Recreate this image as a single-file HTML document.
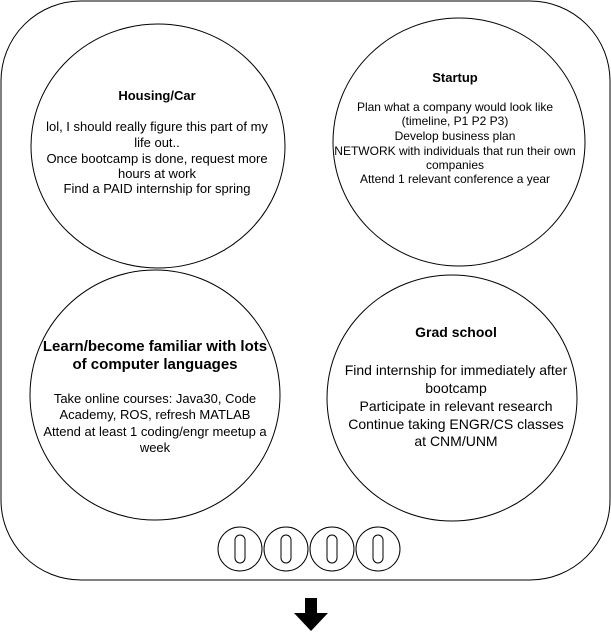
<!DOCTYPE html>
<html><head><style>
body{margin:0;background:#fff}
svg text{font-family:"Liberation Sans",Arial,sans-serif;text-anchor:middle;fill:#000}
</style></head><body>
<svg width="611" height="631" viewBox="0 0 611 631" xmlns="http://www.w3.org/2000/svg">
<rect x="1" y="1" width="609" height="579" rx="80" ry="80" fill="#fff" stroke="#000" stroke-width="1"/>
<ellipse cx="158" cy="146" rx="127" ry="122" fill="#fff" stroke="#000"/>
<ellipse cx="459" cy="142" rx="126" ry="124" fill="#fff" stroke="#000"/>
<ellipse cx="155" cy="395" rx="125" ry="125" fill="#fff" stroke="#000"/>
<ellipse cx="452" cy="398" rx="125" ry="123" fill="#fff" stroke="#000"/>
<g font-size="13">
<text x="157" y="100" font-weight="bold">Housing/Car</text>
<text x="157" y="131">lol, I should really figure this part of my</text>
<text x="157" y="147">life out..</text>
<text x="157" y="163">Once bootcamp is done, request more</text>
<text x="157" y="178">hours at work</text>
<text x="157" y="193">Find a PAID internship for spring</text>
</g>
<g font-size="12">
<text x="455" y="82" font-weight="bold" font-size="13">Startup</text>
<text x="455" y="111">Plan what a company would look like</text>
<text x="455" y="125">(timeline, P1 P2 P3)</text>
<text x="455" y="140">Develop business plan</text>
<text x="455" y="155">NETWORK with individuals that run their own</text>
<text x="455" y="169">companies</text>
<text x="455" y="183">Attend 1 relevant conference a year</text>
</g>
<g font-size="15" font-weight="bold">
<text x="155" y="351">Learn/become familiar with lots</text>
<text x="155" y="369">of computer languages</text>
</g>
<g font-size="13">
<text x="155" y="403">Take online courses: Java30, Code</text>
<text x="155" y="419">Academy, ROS, refresh MATLAB</text>
<text x="155" y="436">Attend at least 1 coding/engr meetup a</text>
<text x="155" y="452">week</text>
</g>
<g font-size="14">
<text x="456" y="337" font-weight="bold">Grad school</text>
<text x="456" y="375">Find internship for immediately after</text>
<text x="456" y="393">bootcamp</text>
<text x="456" y="411">Participate in relevant research</text>
<text x="456" y="429">Continue taking ENGR/CS classes</text>
<text x="456" y="446">at CNM/UNM</text>
</g>
<g fill="#fff" stroke="#000">
<circle cx="240" cy="549" r="22"/><rect x="235" y="535" width="10" height="28" rx="5"/>
<circle cx="286" cy="549" r="22"/><rect x="281" y="535" width="10" height="28" rx="5"/>
<circle cx="332" cy="549" r="22"/><rect x="327" y="535" width="10" height="28" rx="5"/>
<circle cx="378" cy="549" r="22"/><rect x="373" y="535" width="10" height="28" rx="5"/>
</g>
<polygon points="305,598 317,598 317,613 328,613 311,631 294,613 305,613" fill="#000"/>
</svg>
</body></html>
